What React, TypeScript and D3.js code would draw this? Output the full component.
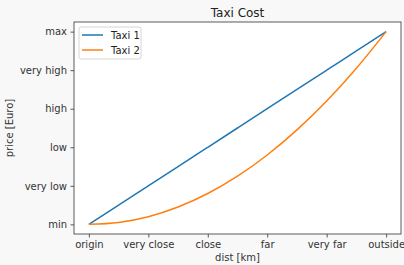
import { useEffect, useRef } from 'react';
import * as d3 from 'd3';

const distLabels = ['origin', 'very close', 'close', 'far', 'very far', 'outside'];
const priceLabels = ['min', 'very low', 'low', 'high', 'very high', 'max'];

// x positions (index into distLabels)
const distSteps = [0, 0.5, 1, 1.5, 2, 2.5, 3, 3.5, 4, 4.5, 5];
const taxi1 = [0, 0.5, 1, 1.5, 2, 2.5, 3, 3.5, 4, 4.5, 5];
const taxi2 = [0, 0.05, 0.2, 0.45, 0.8, 1.25, 1.8, 2.45, 3.2, 4.05, 5];

const seriesNames = ['Taxi 1', 'Taxi 2'];
const seriesColors = ['#1f77b4', '#ff7f0e'];

function App() {
  const svgRef = useRef<SVGSVGElement>(null);

  useEffect(() => {
    const svg = d3.select(svgRef.current);
    svg.selectAll('*').remove();

    const W = 404, H = 265;
    const left = 74, right = 401, top = 22, bottom = 234;
    const font = 'DejaVu Sans, sans-serif';

    svg.append('rect').attr('width', W).attr('height', H).attr('fill', '#f8f8f8');
    svg.append('rect')
      .attr('x', left).attr('y', top)
      .attr('width', right - left).attr('height', bottom - top)
      .attr('fill', 'white');

    const x = d3.scaleLinear().domain([-0.25, 5.25]).range([left, right]);
    const y = d3.scaleLinear().domain([-0.25, 5.25]).range([bottom, top]);

    const xAxis = svg.append('g')
      .attr('transform', `translate(0,${bottom})`)
      .call(d3.axisBottom(x).tickValues(d3.range(distLabels.length))
        .tickFormat((d) => distLabels[+d]).tickSize(3.5).tickPadding(3.5));
    const yAxis = svg.append('g')
      .attr('transform', `translate(${left},0)`)
      .call(d3.axisLeft(y).tickValues(d3.range(priceLabels.length))
        .tickFormat((d) => priceLabels[+d]).tickSize(3.5).tickPadding(3.5));

    [xAxis, yAxis].forEach((a) => {
      a.select('.domain').remove();
      a.selectAll('line').attr('stroke', '#333').attr('stroke-width', 0.8);
      a.selectAll('text').attr('font-family', font).attr('font-size', 10).attr('fill', '#333');
    });

    // frame
    svg.append('rect')
      .attr('x', left).attr('y', top)
      .attr('width', right - left).attr('height', bottom - top)
      .attr('fill', 'none').attr('stroke', '#333').attr('stroke-width', 0.8);

    const line = d3.line<number>()
      .x((d, i) => x(distSteps[i]))
      .y((d) => y(d))
      .curve(d3.curveMonotoneX);

    [taxi1, taxi2].forEach((s, i) => {
      svg.append('path')
        .datum(s)
        .attr('fill', 'none')
        .attr('stroke', seriesColors[i])
        .attr('stroke-width', 1.5)
        .attr('d', line);
    });

    svg.append('text')
      .attr('x', (left + right) / 2).attr('y', 17)
      .attr('text-anchor', 'middle')
      .attr('font-family', font).attr('font-size', 12).attr('fill', '#222')
      .text('Taxi Cost');

    svg.append('text')
      .attr('x', (left + right) / 2).attr('y', 261)
      .attr('text-anchor', 'middle')
      .attr('font-family', font).attr('font-size', 10).attr('fill', '#333')
      .text('dist [km]');

    svg.append('text')
      .attr('transform', `translate(13,${(top + bottom) / 2}) rotate(-90)`)
      .attr('text-anchor', 'middle')
      .attr('font-family', font).attr('font-size', 10).attr('fill', '#333')
      .text('price [Euro]');

    // legend
    const lg = svg.append('g').attr('transform', `translate(79,27)`);
    lg.append('rect')
      .attr('width', 62).attr('height', 32).attr('rx', 2)
      .attr('fill', 'white').attr('fill-opacity', 0.8)
      .attr('stroke', '#ccc').attr('stroke-width', 0.8);
    seriesNames.forEach((name, i) => {
      const ly = 8 + i * 15;
      lg.append('line')
        .attr('x1', 3).attr('x2', 24).attr('y1', ly).attr('y2', ly)
        .attr('stroke', seriesColors[i]).attr('stroke-width', 1.5);
      lg.append('text')
        .attr('x', 32).attr('y', ly + 3.5)
        .attr('font-family', font).attr('font-size', 10).attr('fill', '#222')
        .text(name);
    });
  }, []);

  return (
    <svg ref={svgRef} width={404} height={265}
      style={{ position: 'fixed', left: 0, top: 0, display: 'block' }} />
  );
}

export default App;
